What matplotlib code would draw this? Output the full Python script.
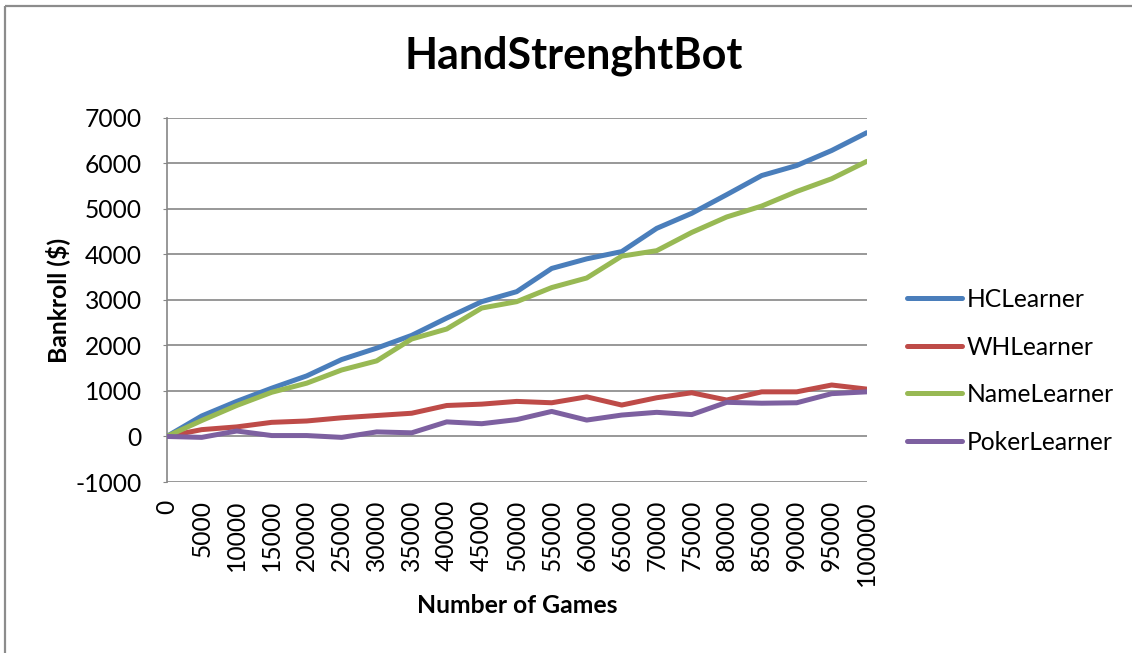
import matplotlib
matplotlib.use("Agg")
import matplotlib.pyplot as plt
from matplotlib.lines import Line2D

# data
games = list(range(0, 100001, 5000))
hc_learner = [0, 450, 770, 1060, 1330, 1690, 1940, 2220, 2600, 2960, 3180,
              3690, 3900, 4060, 4570, 4900, 5310, 5730, 5950, 6280, 6670]
wh_learner = [0, 150, 210, 310, 340, 410, 460, 510, 680, 710, 770,
              740, 870, 690, 850, 960, 800, 980, 980, 1130, 1040]
name_learner = [0, 350, 680, 970, 1170, 1460, 1660, 2140, 2360, 2820, 2960,
                3270, 3480, 3960, 4080, 4480, 4820, 5060, 5380, 5660, 6040]
poker_learner = [0, -20, 120, 20, 20, -20, 100, 80, 320, 280, 370,
                 550, 360, 470, 530, 480, 750, 730, 740, 940, 980]
series_names = ["HCLearner", "WHLearner", "NameLearner", "PokerLearner"]
colors = ["#4A7EBB", "#BE4B48", "#98B954", "#7D60A0"]
y_ticks = list(range(-1000, 7001, 1000))

plt.rcParams['font.family'] = ['Lato', 'DejaVu Sans']
W, H = 1132, 653

fig = plt.figure(figsize=(W / 100, H / 100), dpi=100)
fig.patch.set_edgecolor("white")
fig.patch.set_linewidth(0)
ax = fig.add_axes([166.7 / W, 1 - 482 / H, 700 / W, 364.3 / H])

# outer chart border (only top and left edges show in the picture)
border = dict(transform=fig.transFigure, color="#8C8C8C", linewidth=1.6,
              solid_capstyle="butt")
fig.lines.append(Line2D([5.0 / W, 1.02], [1 - 6 / H, 1 - 6 / H], **border))
fig.lines.append(Line2D([5.0 / W, 5.0 / W], [-0.02, 1 - 6 / H], **border))

for vals, name, c in zip([hc_learner, wh_learner, name_learner, poker_learner],
                         series_names, colors):
    ax.plot(range(len(games)), vals, color=c, linewidth=3.6, label=name,
            solid_capstyle="round", solid_joinstyle="round", zorder=3)

ax.set_xlim(0, len(games) - 1)
ax.set_ylim(-1000, 7000)
ax.set_yticks(y_ticks)
ax.set_yticklabels([str(v) for v in y_ticks], fontsize=17.7)
ax.set_xticks(range(len(games)))
ax.set_xticklabels([str(g) for g in games], rotation=90, fontsize=17.7,
                   va="top", ha="center")
ax.tick_params(axis="x", length=0, pad=13)
ax.tick_params(axis="y", length=3, color="#868686", pad=15)

ax.grid(axis="y", color="#868686", linewidth=1.2)
ax.set_axisbelow(True)
for side in ["top", "right", "bottom"]:
    ax.spines[side].set_visible(False)
ax.spines["left"].set_color("#868686")
ax.spines["left"].set_linewidth(1.2)

fig.text(573.5 / W, 1 - 68.3 / H, "HandStrenghtBot", fontsize=31,
         fontweight="bold", ha="center", va="baseline")
fig.text(517.3 / W, 1 - 613 / H, "Number of Games", fontsize=17.8,
         fontweight="bold", ha="center", va="baseline")
fig.text(58 / W, 1 - 300 / H, "Bankroll ($)", fontsize=17.8,
         fontweight="bold", rotation=90, ha="center", va="center")

fig.legend(loc="center left", bbox_to_anchor=(906.7 / W, 1 - 370.8 / H),
           frameon=False, fontsize=17.7, handlelength=2.24, handletextpad=0.2,
           labelspacing=1.0, borderpad=0, borderaxespad=0)

fig.savefig("out.png", dpi=100, facecolor="white")
